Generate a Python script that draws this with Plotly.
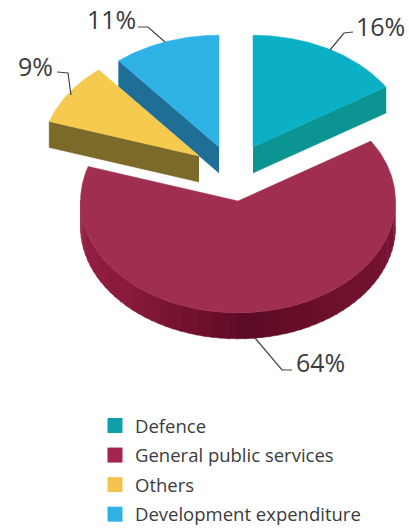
import numpy as np
import plotly.graph_objects as go

# Expenditure shares, clockwise from twelve o'clock
categories = ["Defence", "General public services", "Others", "Development expenditure"]
shares = [16, 64, 9, 11]
share_labels = ["16%", "64%", "9%", "11%"]

# Colours
top_colors = ["#0CB0C6", "#A02E4F", "#F6C94F", "#2FB2E6"]
side_colors = ["#0B9491", "#8A1C3D", "#7C6A2B", "#1E6E96"]
legend_colors = ["#0F9FA8", "#A5234F", "#F2C350", "#2FB2E2"]
rim_angles = [90, 140, 178, 182, 225, 270]
rim_colors = [(122, 22, 52), (112, 17, 45), (92, 11, 36), (100, 13, 40), (138, 27, 60), (150, 34, 70)]

# Projection of the tilted disc, in page pixels
RX = 157.5
TILT = 0.71
DEPTH = 26.0
apex_x = [253, 238, 199, 219]
apex_y = [147, 201, 156, 147]
TEXT = "#3B3B3B"
FONT = "Open Sans"


def project(cx, cy, deg, radius=RX):
    a = np.radians(deg)
    return cx + radius * np.sin(a), cy - radius * TILT * np.cos(a)


def arc(cx, cy, start, end, drop=0.0):
    degs = np.linspace(start, end, max(int(abs(end - start)) * 2, 2))
    x, y = project(cx, cy, degs)
    return x, y + drop


def polygon(x, y, color):
    return go.Scatter(x=list(x), y=list(y), mode="lines", fill="toself", fillcolor=color,
                      line=dict(color=color, width=0.5), hoverinfo="skip", showlegend=False)


edges = np.cumsum([0] + shares) * 3.6
spans = list(zip(edges[:-1], edges[1:]))
fig = go.Figure()


def straight_side(i, deg):
    """Cut face running from the slice apex to its rim at the given angle."""
    px, py = project(apex_x[i], apex_y[i], deg)
    xs = [apex_x[i], px, px, apex_x[i]]
    ys = [apex_y[i], py, py + DEPTH, apex_y[i] + DEPTH]
    return polygon(xs, ys, side_colors[i])


def top_face(i):
    x, y = arc(apex_x[i], apex_y[i], *spans[i])
    return polygon([apex_x[i], *x, apex_x[i]], [apex_y[i], *y, apex_y[i]], top_colors[i])


# Rear slices first so the nearer ones overlap them
fig.add_trace(straight_side(0, spans[0][1]))
fig.add_trace(top_face(0))
fig.add_trace(straight_side(3, spans[3][0]))
fig.add_trace(top_face(3))
fig.add_trace(straight_side(2, spans[2][0]))
fig.add_trace(top_face(2))

# Rim of the large slice, shaded in short segments along its visible front
for start in np.arange(90, 270, 3.0):
    end = start + 3.5
    t = start + 1.5
    rgb = [np.interp(t, rim_angles, [c[k] for c in rim_colors]) for k in range(3)]
    color = "rgb(%d,%d,%d)" % tuple(rgb)
    xt, yt = arc(apex_x[1], apex_y[1], start, end)
    xb, yb = arc(apex_x[1], apex_y[1], start, end, DEPTH)
    fig.add_trace(polygon([*xt, *xb[::-1]], [*yt, *yb[::-1]], color))
fig.add_trace(top_face(1))

# Legend entries
for name, color in zip(categories, legend_colors):
    fig.add_trace(go.Scatter(x=[None], y=[None], mode="markers", name=name, legendgroup=name,
                             marker=dict(symbol="square", size=15, color=color)))

# Leader lines and their percentage labels
leaders = [
    ([330, 344, 353], [50, 33, 32]),
    ([255, 282, 292], [338, 370, 370]),
    ([57, 68, 71], [72, 73, 95]),
    ([138, 148, 165], [27, 27, 42]),
]
label_pos = [(380, 26), (320, 362), (35, 66), (111, 19)]
for (lx, ly), label, (tx, ty) in zip(leaders, share_labels, label_pos):
    fig.add_trace(go.Scatter(x=lx, y=ly, mode="lines", line=dict(color="#444444", width=1.2),
                             hoverinfo="skip", showlegend=False))
    fig.add_annotation(x=tx, y=ty, text=label, showarrow=False,
                       font=dict(family=FONT, size=25, color=TEXT))

fig.update_layout(
    width=409, height=529, margin=dict(l=0, r=0, t=0, b=0, autoexpand=False),
    paper_bgcolor="white", plot_bgcolor="white",
    xaxis=dict(range=[0, 409], visible=False, fixedrange=True),
    yaxis=dict(range=[529, 0], visible=False, fixedrange=True),
    legend=dict(x=95 / 409, y=1 - 407 / 529, xanchor="left", yanchor="top",
                font=dict(family=FONT, size=18.5, color=TEXT), tracegroupgap=2.5,
                bgcolor="rgba(0,0,0,0)", itemclick=False, itemdoubleclick=False),
)
fig.write_html("out.html")
